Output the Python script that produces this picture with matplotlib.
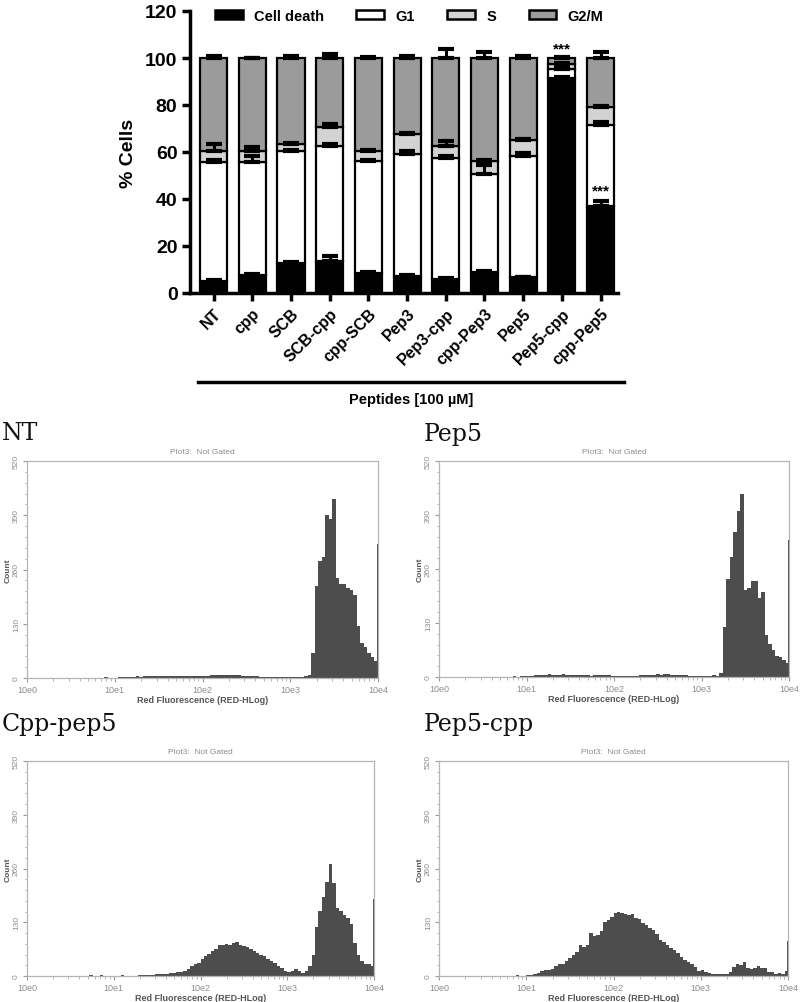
import numpy as np
import matplotlib
matplotlib.use('Agg')
import matplotlib.pyplot as plt
from matplotlib.patches import Patch
from matplotlib.lines import Line2D

# ---------------- bar chart data ----------------
peptides = ['NT', 'cpp', 'SCB', 'SCB-cpp', 'cpp-SCB', 'Pep3', 'Pep3-cpp',
            'cpp-Pep3', 'Pep5', 'Pep5-cpp', 'cpp-Pep5']
cell_death = [5.0, 7.7, 12.8, 13.8, 8.5, 7.4, 6.0, 8.8, 6.7, 91.5, 36.9]
g1 = [50.6, 48.2, 47.5, 48.9, 47.8, 51.7, 51.3, 41.8, 51.7, 4.0, 34.6]
s_phase = [5.0, 4.7, 3.1, 7.8, 4.3, 8.6, 5.2, 5.5, 6.8, 2.0, 7.5]
g2m = [39.4, 39.4, 36.6, 29.5, 39.4, 32.3, 37.5, 43.9, 34.8, 2.5, 21.0]

death_err = [0.6, 0.4, 0.5, 2.1, 0.4, 0.3, 0.3, 0.5, 0.3, 0.5, 2.4]
g1_err = [1.1, 2.4, 0.5, 0.6, 0.5, 1.2, 1.0, 4.0, 1.2, 1.5, 1.2]
s_err = [2.8, 1.4, 0.3, 1.4, 0.3, 0.3, 2.3, 0.5, 0.3, 0.3, 0.6]
g2m_err = [1.0, 0.2, 1.0, 1.8, 0.5, 0.8, 4.0, 2.5, 0.8, 0.3, 2.7]

phase_names = ['Cell death', 'G1', 'S', 'G2/M']
phase_colors = ['#000000', '#ffffff', '#d3d3d3', '#9b9b9b']

# ---------------- flow cytometry histograms (counts per 0.04-decade bin) ----------------
nt_counts = [0, 0, 0, 0, 1, 0, 0, 1, 0, 0, 1, 0, 0, 1, 0, 1, 1, 0, 1, 1,
             1, 1, 2, 1, 1, 1, 2, 2, 3, 3, 3, 4, 3, 4, 4, 5, 4, 5, 4, 5,
             4, 4, 5, 5, 4, 5, 4, 5, 4, 5, 5, 5, 6, 6, 6, 7, 7, 7, 6, 6,
             6, 5, 5, 5, 5, 4, 3, 3, 3, 3, 2, 3, 3, 2, 2, 3, 3, 3, 3, 4,
             8, 60, 220, 280, 290, 390, 380, 430, 240, 225, 225, 215, 210, 200, 125, 85,
             75, 60, 50, 40]
nt_last = 320

pep5_counts = [0, 1, 0, 0, 0, 1, 0, 0, 1, 0, 1, 0, 0, 1, 0, 1, 1, 0, 1, 1,
               1, 2, 1, 2, 3, 3, 3, 4, 4, 5, 6, 7, 5, 4, 6, 7, 5, 4, 5, 6,
               5, 5, 4, 3, 4, 6, 5, 4, 4, 3, 3, 3, 3, 2, 2, 3, 3, 4, 5, 6,
               6, 6, 7, 6, 7, 8, 6, 5, 5, 6, 4, 3, 3, 2, 3, 2, 2, 3, 5, 3,
               10, 120, 235, 290, 350, 400, 440, 210, 215, 230, 230, 190, 205, 100, 80, 65,
               50, 48, 40, 33]
pep5_last = 330

cpppep5_counts = [0, 0, 0, 0, 0, 0, 0, 1, 0, 0, 0, 0, 0, 0, 1, 0, 1, 1, 2, 1,
                  1, 2, 1, 1, 1, 1, 1, 2, 1, 1, 1, 1, 2, 2, 2, 3, 3, 4, 4, 5,
                  6, 7, 8, 9, 10, 12, 16, 23, 28, 32, 40, 48, 54, 60, 66, 76, 76, 77, 76, 79,
                  82, 75, 72, 70, 66, 61, 56, 52, 48, 42, 37, 31, 24, 19, 13, 10, 12, 16, 12, 7,
                  12, 24, 50, 118, 158, 190, 228, 270, 225, 165, 158, 148, 140, 125, 80, 52,
                  36, 28, 28, 25]
cpppep5_last = 187

pep5cpp_counts = [0, 0, 0, 0, 0, 0, 0, 0, 1, 0, 0, 0, 1, 0, 0, 0, 1, 0, 1, 1,
                  1, 1, 2, 1, 1, 2, 2, 5, 8, 12, 15, 15, 18, 24, 30, 30, 37, 43, 52, 58,
                  74, 70, 75, 103, 96, 100, 110, 130, 136, 142, 152, 155, 153, 150, 148, 150, 140, 137, 129, 124,
                  116, 112, 102, 88, 83, 76, 67, 62, 55, 46, 38, 33, 29, 21, 11, 15, 9, 7, 6, 6,
                  6, 5, 5, 9, 22, 30, 27, 35, 20, 17, 20, 24, 19, 20, 10, 9,
                  6, 8, 6, 12]
pep5cpp_last = 84

decade_labels = ['10e0', '10e1', '10e2', '10e3', '10e4']
count_ticks = [0, 130, 260, 390, 520]

# ---------------- figure ----------------
W, H = 800, 1003
fig = plt.figure(figsize=(W / 100, H / 100), dpi=100)
fig.patch.set_facecolor('white')


def fx(px):
    return px / W


def fy(py):
    return 1 - py / H


sans = ['Liberation Sans', 'DejaVu Sans']
serif_title = ['DejaVu Serif', 'Liberation Serif']
plt.rcParams['font.family'] = sans

# ---- bar chart ----
ax = fig.add_axes([fx(190), fy(294), fx(618) - fx(190), fy(12) - fy(294)])
x = np.arange(len(peptides))
series = [cell_death, g1, s_phase, g2m]
errs = [death_err, g1_err, s_err, g2m_err]
bottom = np.zeros(len(peptides))
tops = []
for vals, col, name in zip(series, phase_colors, phase_names):
    vals = np.array(vals)
    ax.bar(x, vals, 0.7, bottom=bottom, color=col, edgecolor='black',
           linewidth=1.6, label=name, zorder=2)
    bottom = bottom + vals
    tops.append(bottom.copy())
for top, err in zip(tops, errs):
    ax.errorbar(x, top, yerr=[np.zeros(len(err)), err], fmt='none',
                ecolor='black', elinewidth=2.2, capsize=6, capthick=3, zorder=3)

ax.set_xlim(-0.61, 10.45)
ax.set_ylim(0, 120)
ax.set_yticks([0, 20, 40, 60, 80, 100, 120])
ax.set_xticks(x)
ax.set_xticklabels(peptides, rotation=45, ha='right', va='top',
                   rotation_mode='anchor', fontsize=11.5, fontweight='bold')
for lab in ax.get_yticklabels():
    lab.set_fontsize(14)
    lab.set_fontweight('bold')
ax.tick_params(axis='both', width=2.5, length=6, color='black', pad=3)
for sp in ['top', 'right']:
    ax.spines[sp].set_visible(False)
for sp in ['left', 'bottom']:
    ax.spines[sp].set_linewidth(2.5)
ax.set_ylabel('% Cells', fontsize=14, fontweight='bold', labelpad=6)

ax.text(9, 104, '***', ha='center', va='center', fontsize=11, fontweight='bold')
ax.text(10, 43.5, '***', ha='center', va='center', fontsize=11, fontweight='bold')

handles = [Patch(facecolor=c, edgecolor='black', linewidth=1.8) for c in phase_colors]
leg = fig.legend(handles, phase_names, loc='center left',
                 bbox_to_anchor=(fx(215), fy(17)), ncol=4, frameon=False,
                 prop={'family': sans, 'weight': 'bold', 'size': 10.5},
                 handlelength=1.9, handleheight=0.6, handletextpad=0.8,
                 columnspacing=2.2, borderpad=0, borderaxespad=0)

fig.add_artist(Line2D([fx(198), fx(624)], [fy(383), fy(383)], color='black', lw=2.5))
fig.text(fx(411), fy(400), 'Peptides [100 µM]', ha='center', va='center',
         fontsize=10.5, fontweight='bold')

# ---- histograms ----
edges = np.linspace(0, 4, len(nt_counts) + 1)
minor_x = [d + np.log10(k) for d in range(4) for k in range(2, 10)]


def hist_panel(left, top, right, bottom_px, counts, last, title, title_x, title_y):
    hx = fig.add_axes([fx(left), fy(bottom_px), fx(right) - fx(left), fy(top) - fy(bottom_px)])
    hx.stairs(counts, edges, fill=True, color='#4d4d4d', linewidth=0)
    hx.bar(3.986, last, width=0.014, align='edge', color='#4d4d4d', linewidth=0)
    hx.set_xlim(0, 4)
    hx.set_ylim(0, 520)
    hx.set_xticks(range(5))
    hx.set_xticklabels(decade_labels)
    hx.set_xticks(minor_x, minor=True)
    hx.set_yticks(count_ticks)
    hx.set_yticklabels([str(v) for v in count_ticks], rotation=90, va='center')
    hx.set_yticks(np.arange(0, 521, 26), minor=True)
    hx.tick_params(axis='both', which='major', length=3, width=0.8, color='#999999',
                   labelsize=6.5, labelcolor='#8c8c8c', pad=2, direction='out')
    hx.tick_params(axis='y', which='major', labelsize=6)
    hx.tick_params(axis='both', which='minor', length=1.8, width=0.6, color='#aaaaaa',
                   direction='out')
    for sp in hx.spines.values():
        sp.set_color('#b5b5b5')
        sp.set_linewidth(0.9)
    hx.set_title('Plot3:  Not Gated', fontsize=6, color='#8c8c8c', pad=6)
    hx.set_xlabel('Red Fluorescence (RED-HLog)', fontsize=6.5, fontweight='bold',
                  color='#555555', labelpad=0.5)
    fig.text(fx(left - 19), (fy(top) + fy(bottom_px)) / 2, 'Count', rotation=90,
             ha='center', va='center', fontsize=6, fontweight='bold', color='#555555')
    fig.text(fx(title_x), fy(title_y), title, ha='left', va='center',
             fontsize=17, family=serif_title, color='#111111')


hist_panel(27, 462, 378, 679, nt_counts, nt_last, 'NT', 2, 434)
hist_panel(439, 462, 789, 678, pep5_counts, pep5_last, 'Pep5', 424, 434)
hist_panel(27, 762, 374, 977, cpppep5_counts, cpppep5_last, 'Cpp-pep5', 2, 724)
hist_panel(439, 762, 788, 977, pep5cpp_counts, pep5cpp_last, 'Pep5-cpp', 424, 724)

fig.savefig('out.png', dpi=100, facecolor='white')
